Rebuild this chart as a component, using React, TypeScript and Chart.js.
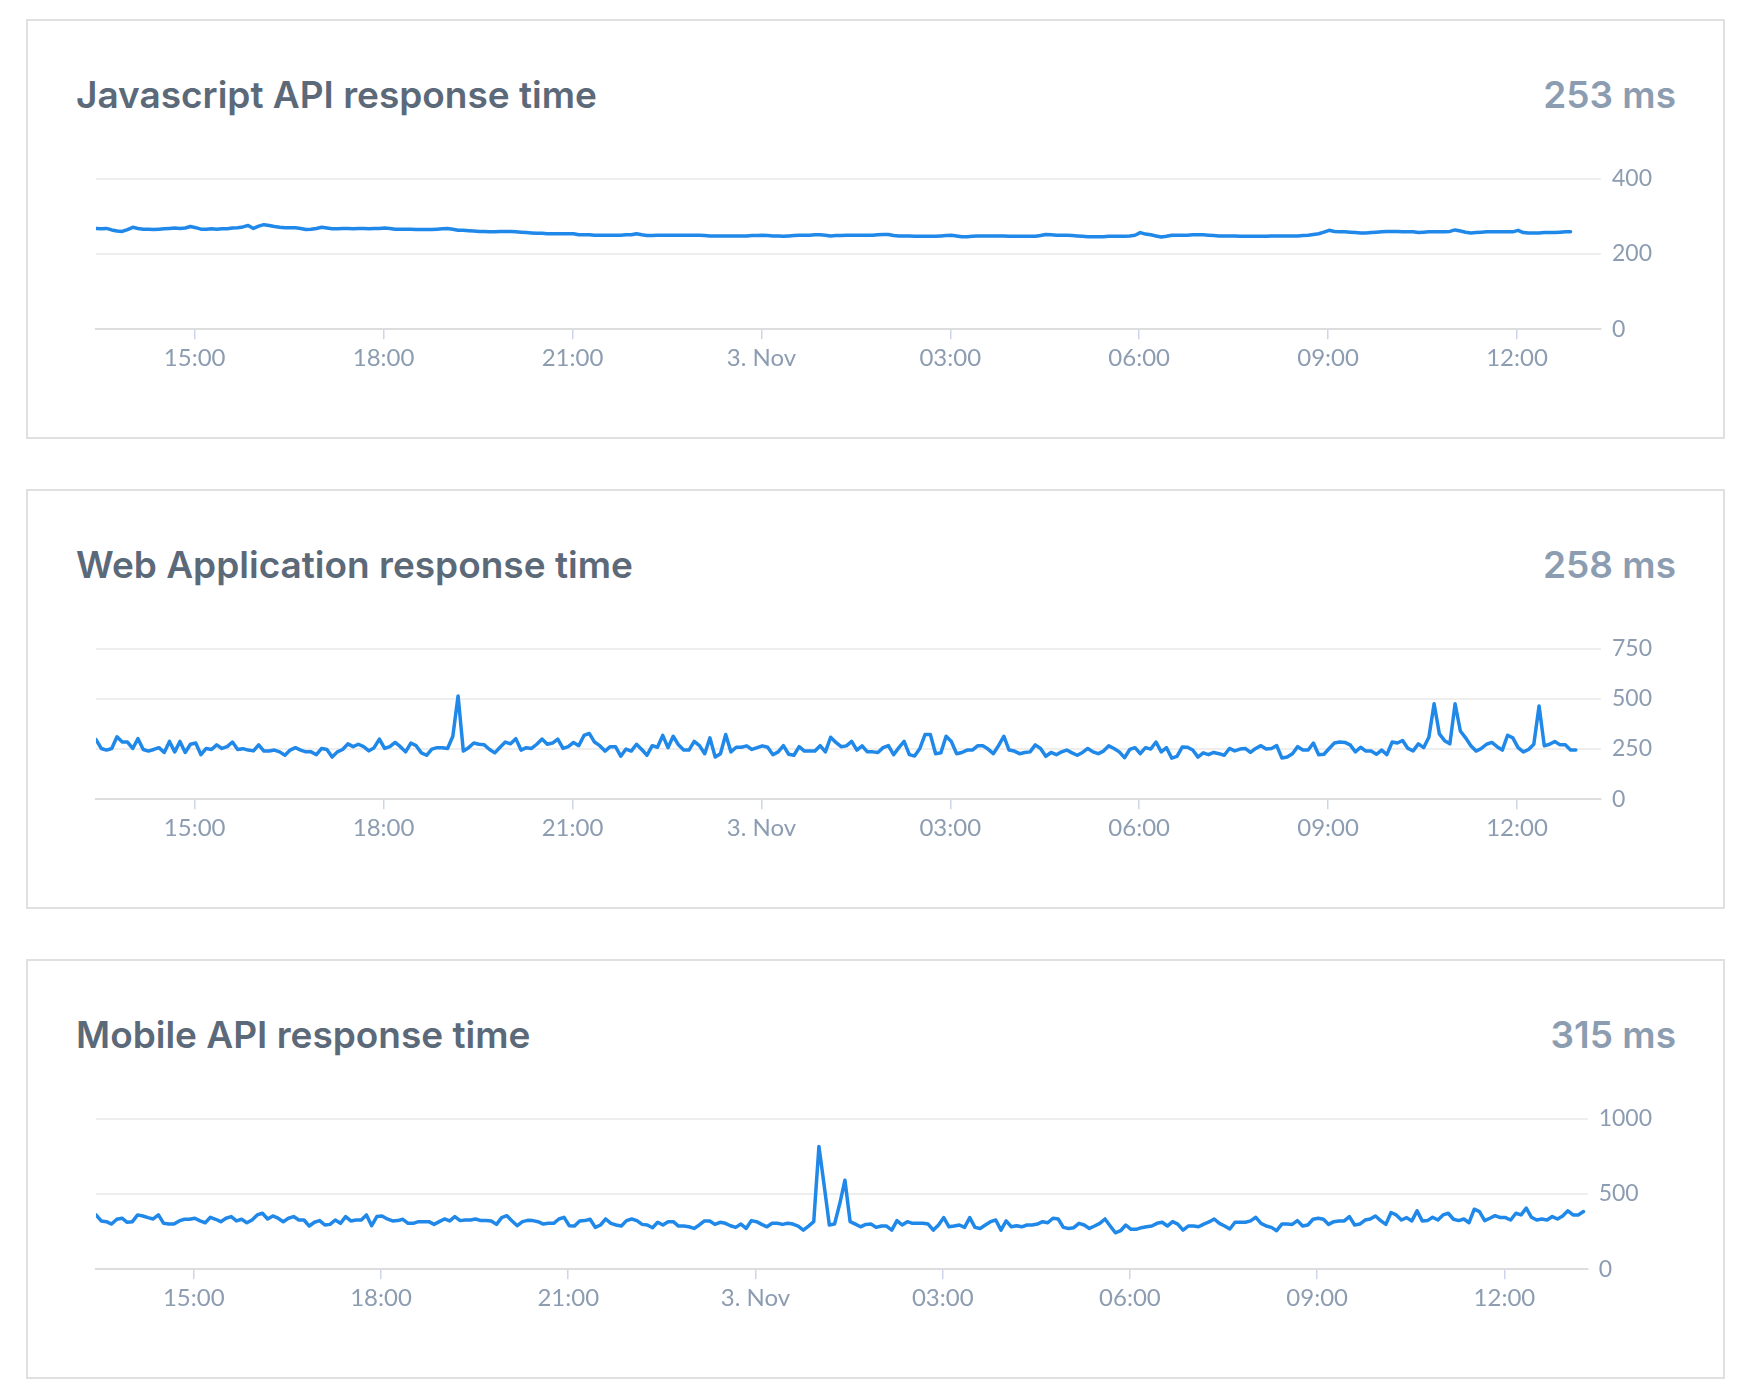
import React, { useEffect, useRef } from "react";
import { Chart, registerables } from "chart.js";

Chart.register(...registerables);

// ---- time axis (hours since 2 Nov 00:00) ----
const START_HOUR = 13 + 26 / 60; // first sample 13:26
const STEP_MINUTES = 5;
const X_MIN = 13 + 26 / 60;
const X_MAX = 37 + 20 / 60; // 13:20 on 3 Nov

const xTickHours = [15, 18, 21, 24, 27, 30, 33, 36];
const xTickLabels = ["15:00", "18:00", "21:00", "3. Nov", "03:00", "06:00", "09:00", "12:00"];

// ---- panel texts ----
const panelTitles = [
  "Javascript API response time",
  "Web Application response time",
  "Mobile API response time",
];
const panelSummaries = ["253 ms", "258 ms", "315 ms"];

// ---- y ticks ----
const jsApiYTicks = [0, 200, 400];
const webAppYTicks = [0, 250, 500, 750];
const mobileApiYTicks = [0, 500, 1000];

// ---- series values (ms, 5-minute samples) ----
const jsApiValues = [
  268, 267, 268, 264, 261, 260, 265, 271, 268, 266,
  266, 265, 266, 267, 268, 269, 268, 269, 273, 270,
  266, 266, 267, 266, 267, 267, 269, 270, 272, 276,
  268, 274, 278, 276, 273, 271, 270, 270, 270, 268,
  265, 266, 268, 271, 269, 267, 267, 268, 268, 267,
  268, 268, 267, 268, 268, 269, 268, 266, 266, 266,
  266, 265, 265, 265, 265, 266, 267, 268, 266, 263,
  263, 262, 261, 260, 260, 259, 259, 260, 260, 260,
  259, 258, 257, 256, 255, 255, 254, 254, 254, 254,
  254, 254, 251, 251, 251, 250, 250, 250, 250, 250,
  250, 251, 251, 254, 251, 249, 249, 250, 250, 250,
  250, 250, 250, 250, 250, 250, 249, 248, 248, 248,
  248, 248, 248, 248, 248, 249, 249, 250, 249, 248,
  248, 247, 248, 249, 250, 250, 250, 251, 251, 250,
  248, 249, 249, 250, 250, 250, 250, 250, 250, 251,
  252, 252, 249, 248, 248, 248, 247, 247, 247, 247,
  247, 248, 249, 250, 248, 246, 246, 247, 248, 248,
  248, 248, 248, 248, 247, 247, 247, 247, 247, 247,
  249, 252, 251, 250, 250, 250, 249, 248, 247, 246,
  246, 246, 246, 247, 247, 247, 247, 248, 250, 257,
  253, 251, 248, 245, 247, 250, 250, 250, 250, 251,
  251, 251, 250, 249, 248, 248, 248, 248, 247, 247,
  247, 247, 247, 247, 248, 248, 248, 248, 248, 248,
  249, 250, 252, 254, 258, 263, 260, 259, 259, 258,
  257, 256, 256, 257, 258, 259, 260, 260, 260, 259,
  259, 259, 257, 258, 259, 259, 259, 259, 260, 264,
  261, 258, 256, 257, 258, 259, 259, 259, 259, 259,
  259, 263, 257, 256, 256, 256, 257, 257, 257, 258,
  259, 259,
];

const webAppValues = [
  297, 253, 245, 253, 311, 285, 285, 253, 302, 248,
  240, 248, 257, 233, 288, 236, 288, 233, 274, 280,
  222, 253, 248, 271, 253, 262, 285, 248, 252, 245,
  241, 271, 240, 240, 245, 236, 219, 245, 257, 245,
  236, 236, 222, 253, 248, 210, 236, 248, 276, 262,
  274, 262, 241, 257, 300, 253, 262, 283, 262, 236,
  280, 267, 231, 219, 250, 257, 257, 253, 314, 515,
  240, 257, 280, 274, 271, 248, 231, 259, 285, 276,
  302, 245, 257, 253, 274, 300, 274, 280, 300, 253,
  262, 283, 267, 318, 328, 285,
  267, 240, 262, 262, 214, 250, 240, 274, 248, 219,
  267, 259, 318, 257, 314, 271, 245, 245, 288, 267,
  227, 306, 210, 227, 323, 236, 259, 259, 266, 248,
  257, 266, 259, 222, 236, 267, 224, 219, 262, 240,
  240, 240, 267, 236, 309, 283, 262, 266, 288, 245,
  266, 236, 236, 233, 257, 267, 222, 257, 288, 222,
  215, 253, 323, 323, 227, 231, 314, 288, 227, 233,
  245, 245, 266, 266, 250, 227, 267, 314, 245, 240,
  227, 233, 236, 271, 253, 214, 233, 222, 236, 245,
  231, 219, 233, 253, 236,
  227, 240, 266, 253, 236, 207, 248, 257, 227, 257,
  250, 285, 236, 257, 205, 214, 260, 259, 245, 210,
  231, 222, 233, 227, 219, 253, 241, 250, 253, 233,
  253, 267, 250, 253, 267, 205, 210, 227, 262, 245,
  245, 280, 222, 224, 253, 280, 285, 283, 271, 236,
  259, 240, 240, 224, 245, 222, 285, 280, 293, 253,
  241, 276, 257, 309, 476, 326, 292, 276, 476, 340,
  306, 267, 240, 253, 274, 283, 262, 245, 319, 306,
  257, 236, 248, 274, 465, 266, 274, 288, 271, 271,
  245, 245,
];

const mobileApiValues = [
  361, 321, 316, 300, 332, 339, 312, 316, 361, 354,
  343, 334, 361, 305, 300, 300, 321, 332, 332, 339,
  321, 309, 345, 332, 316, 339, 350, 321, 332, 309,
  327, 361, 372, 334, 354, 339, 316, 339, 350, 327,
  327, 287, 312, 323, 294, 298, 327, 305, 350, 321,
  327, 327, 361, 289, 350, 354, 334, 321, 323, 332,
  305, 305, 316, 316, 316, 298, 316, 334, 321, 350,
  323, 327, 327, 334, 323, 323, 321, 298, 343, 356,
  321, 289, 316, 325, 323, 316, 300, 305, 305, 334,
  345, 289, 287, 321, 323, 332, 278,
  294, 334, 305, 294, 287, 323, 334, 323, 298, 294,
  276, 312, 294, 316, 316, 287, 287, 282, 271, 294,
  321, 321, 298, 312, 305, 289, 278, 300, 271, 323,
  316, 298, 282, 305, 305, 298, 305, 300, 287, 260,
  287, 316, 816, 558, 294, 300, 435, 592, 316, 300,
  282, 298, 300, 278, 287, 287, 260, 323, 294, 316,
  305, 305, 305, 300, 260, 294, 343, 282, 287, 294,
  278, 343, 278, 271, 294, 316, 327, 260, 321, 282,
  289, 282, 294, 294, 300, 316, 309, 339, 334, 278,
  271, 276, 305, 294, 271, 287,
  305, 334, 287, 242, 256, 294, 265, 265, 276, 282,
  287, 305, 312, 287, 316, 300, 260, 287, 287, 282,
  300, 314, 334, 305, 287, 267, 312, 312, 312, 321,
  345, 305, 287, 278, 256, 300, 300, 298, 323, 287,
  294, 332, 339, 332, 298, 316, 321, 321, 350, 294,
  300, 327, 334, 354, 323, 298, 377, 361, 327, 343,
  321, 388, 321, 323, 345, 327, 361, 372, 332, 323,
  334, 309, 399, 383, 323, 339, 356, 343, 343, 327,
  372, 361, 406, 345, 327, 334, 327, 350, 334, 354,
  388, 361, 361, 383,
];

const panelSeries = [jsApiValues, webAppValues, mobileApiValues];
const panelYTicks = [jsApiYTicks, webAppYTicks, mobileApiYTicks];

// ---- styling ----
const LINE_COLOR = "#1f88e8";
const TITLE_COLOR = "#5b6979";
const SUMMARY_COLOR = "#8c9db1";
const TICK_COLOR = "#8c9cb1";
const GRID_COLOR = "#eeeeee";
const AXIS_COLOR = "#dddddd";
const TICK_MARK_COLOR = "#ccd6eb";
const FONT = "Lato";
const HEAD_FONT = "Inter";

const CANVAS_W = 1577;
const CANVAS_H = 224;

function LineChart({ values, yTicks }: { values: number[]; yTicks: number[] }) {
  const ref = useRef<HTMLCanvasElement | null>(null);
  useEffect(() => {
    if (!ref.current) return;
    const points = values.map((v, i) => ({ x: START_HOUR + (i * STEP_MINUTES) / 60, y: v }));
    const chart = new Chart(ref.current, {
      type: "line",
      data: {
        datasets: [
          {
            data: points,
            borderColor: LINE_COLOR,
            borderWidth: 3.5,
            pointRadius: 0,
            pointHoverRadius: 0,
            tension: 0,
            fill: false,
            borderJoinStyle: "round",
            borderCapStyle: "round",
          },
        ],
      },
      options: {
        animation: false,
        responsive: false,
        events: [],
        layout: { padding: { top: 0, left: 10, right: 0, bottom: 0 } },
        plugins: { legend: { display: false }, tooltip: { enabled: false } },
        scales: {
          x: {
            type: "linear",
            min: X_MIN,
            max: X_MAX,
            afterBuildTicks: (scale: any) => {
              scale.ticks = xTickHours.map((h) => ({ value: h }));
            },
            ticks: {
              autoSkip: false,
              maxRotation: 0,
              padding: 5,
              color: TICK_COLOR,
              font: { family: FONT, size: 24 },
              callback: (v: any) => {
                const i = xTickHours.indexOf(Number(v));
                return i >= 0 ? xTickLabels[i] : "";
              },
            },
            grid: {
              drawOnChartArea: false,
              drawTicks: true,
              tickLength: 10,
              color: TICK_MARK_COLOR,
              lineWidth: 1.5,
            },
            border: { display: true, color: AXIS_COLOR, width: 2 },
          },
          y: {
            position: "right",
            min: yTicks[0],
            max: yTicks[yTicks.length - 1],
            afterBuildTicks: (scale: any) => {
              scale.ticks = yTicks.map((t) => ({ value: t }));
            },
            ticks: {
              padding: 11,
              color: TICK_COLOR,
              font: { family: FONT, size: 23 },
              callback: (v: any) => String(v),
            },
            grid: {
              drawTicks: false,
              lineWidth: 2,
              color: (ctx: any) => (ctx.tick && ctx.tick.value === 0 ? AXIS_COLOR : GRID_COLOR),
            },
            border: { display: false },
          },
        },
      },
    } as any);
    return () => chart.destroy();
  }, [values, yTicks]);
  return (
    <canvas
      ref={ref}
      width={CANVAS_W}
      height={CANVAS_H}
      style={{ position: "absolute", left: 58, top: 133, width: CANVAS_W, height: CANVAS_H }}
    />
  );
}

export default function App() {
  return (
    <div style={{ padding: "11px 0 0 18px" }}>
      {panelTitles.map((title, i) => (
        <div
          key={title}
          style={{
            position: "relative",
            width: 1699,
            height: 420,
            boxSizing: "border-box",
            border: "2px solid #e0e0e0",
            marginBottom: 50,
            background: "#ffffff",
          }}
        >
          <div
            style={{
              position: "absolute",
              left: 48,
              top: 55,
              fontFamily: HEAD_FONT,
              fontWeight: 600,
              fontSize: 37,
              lineHeight: "37px",
              color: TITLE_COLOR,
              whiteSpace: "nowrap",
            }}
          >
            {title}
          </div>
          <div
            style={{
              position: "absolute",
              right: 47,
              top: 55,
              fontFamily: HEAD_FONT,
              fontWeight: 600,
              fontSize: 37,
              lineHeight: "37px",
              color: SUMMARY_COLOR,
              whiteSpace: "nowrap",
            }}
          >
            {panelSummaries[i]}
          </div>
          <LineChart values={panelSeries[i]} yTicks={panelYTicks[i]} />
        </div>
      ))}
    </div>
  );
}
